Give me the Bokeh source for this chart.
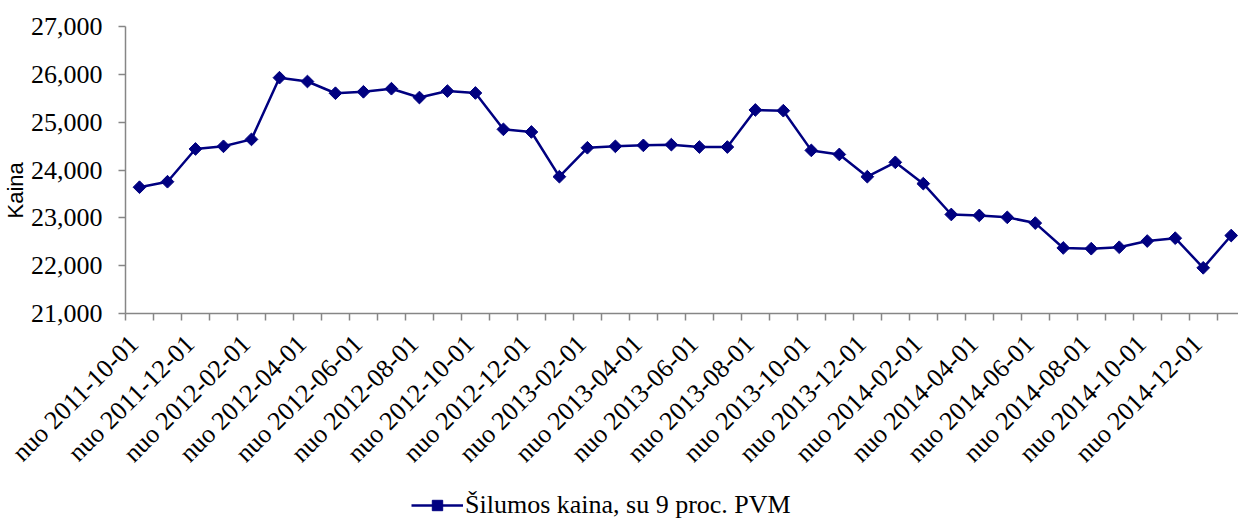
from math import pi
from bokeh.plotting import figure
from bokeh.layouts import column
from bokeh.models import (Range1d, FixedTicker, NumeralTickFormatter, Title,
                          Legend, LegendItem)
from bokeh.embed import file_html
from bokeh.resources import INLINE

tick_labels = ["nuo 2011-10-01", "nuo 2011-12-01", "nuo 2012-02-01", "nuo 2012-04-01",
               "nuo 2012-06-01", "nuo 2012-08-01", "nuo 2012-10-01", "nuo 2012-12-01",
               "nuo 2013-02-01", "nuo 2013-04-01", "nuo 2013-06-01", "nuo 2013-08-01",
               "nuo 2013-10-01", "nuo 2013-12-01", "nuo 2014-02-01", "nuo 2014-04-01",
               "nuo 2014-06-01", "nuo 2014-08-01", "nuo 2014-10-01", "nuo 2014-12-01"]
prices = [23640, 23755, 24440, 24495, 24640, 25930, 25850, 25605, 25635, 25700,
          25515, 25650, 25610, 24850, 24795, 23860, 24465, 24495, 24515, 24530,
          24480, 24480, 25255, 25240, 24410, 24325, 23860, 24160, 23715, 23070,
          23050, 23010, 22890, 22370, 22355, 22385, 22515, 22575, 21955, 22630]
series_name = "Šilumos kaina, su 9 proc. PVM"
y_title = "Kaina"

n = len(prices)
xs = [i + 0.5 for i in range(n)]

NAVY = "#000080"
GRAY = "#868686"
SERIF = "Liberation Serif"

p = figure(width=1238, height=485, output_backend="svg", toolbar_location=None,
           x_range=Range1d(0, 39.76), y_range=Range1d(21000, 27000),
           min_border_left=122, min_border_right=0, min_border_top=26,
           min_border_bottom=172)
p.outline_line_color = None
p.xgrid.visible = False
p.ygrid.visible = False

p.line(xs, prices, line_color=NAVY, line_width=2.5)
p.scatter(xs, prices, marker="square", angle=pi / 4, size=9,
          fill_color=NAVY, line_color=NAVY)

# x axis: labels every second month, tick marks at category boundaries
label_pos = [xs[2 * k] - 0.2 for k in range(len(tick_labels))]
p.xaxis.ticker = FixedTicker(ticks=label_pos, minor_ticks=list(range(n)))
p.xaxis.major_label_overrides = {pos: lab for pos, lab in zip(label_pos, tick_labels)}
p.xaxis.major_label_orientation = pi / 4
p.xaxis.major_tick_out = 0
p.xaxis.major_tick_in = 0
p.xaxis.minor_tick_out = 7
p.xaxis.minor_tick_in = 0
p.xaxis.minor_tick_line_color = GRAY
p.xaxis.minor_tick_line_width = 1.5
p.xaxis.axis_line_color = GRAY
p.xaxis.axis_line_width = 1.5
p.xaxis.major_label_text_font = SERIF
p.xaxis.major_label_text_font_size = "26px"
p.xaxis.major_label_text_color = "black"
p.xaxis.major_label_standoff = 19

p.yaxis.ticker = FixedTicker(ticks=[21000, 22000, 23000, 24000, 25000, 26000, 27000])
p.yaxis.formatter = NumeralTickFormatter(format="0,0")
p.yaxis.major_tick_out = 7
p.yaxis.major_tick_in = 0
p.yaxis.minor_tick_line_color = None
p.yaxis.major_tick_line_color = GRAY
p.yaxis.major_tick_line_width = 1.5
p.yaxis.axis_line_color = GRAY
p.yaxis.axis_line_width = 1.5
p.yaxis.major_label_text_font = SERIF
p.yaxis.major_label_text_font_size = "26px"
p.yaxis.major_label_text_color = "black"
p.yaxis.major_label_standoff = 16

p.add_layout(Title(text=y_title, align="left", offset=95,
                   text_font="Liberation Sans", text_font_size="22px",
                   text_font_style="normal", text_color="black",
                   standoff=0), "left")

# legend strip under the chart (its frame is aligned with the chart frame)
lf = figure(width=1238, height=36, output_backend="svg", toolbar_location=None,
            x_axis_type=None, y_axis_type=None,
            x_range=Range1d(0, 1), y_range=Range1d(0, 1),
            min_border_left=0, min_border_right=0, min_border_top=0,
            min_border_bottom=0)
lf.outline_line_color = None
lg_line = lf.line(xs, prices, line_color=NAVY, line_width=2.5)
lg_mark = lf.scatter(xs, prices, marker="square", angle=pi / 4, size=9,
                     fill_color=NAVY, line_color=NAVY)
legend = Legend(items=[LegendItem(label=series_name, renderers=[lg_line, lg_mark])],
                location=(286, 1), orientation="horizontal",
                border_line_color=None, background_fill_alpha=0,
                padding=0, margin=0, glyph_width=52, glyph_height=26,
                label_height=26, label_standoff=2,
                label_text_font=SERIF, label_text_font_size="26px",
                label_text_color="black")
lf.add_layout(legend, "center")

open("out.html", "w").write(file_html(column(p, lf, spacing=0), INLINE))
